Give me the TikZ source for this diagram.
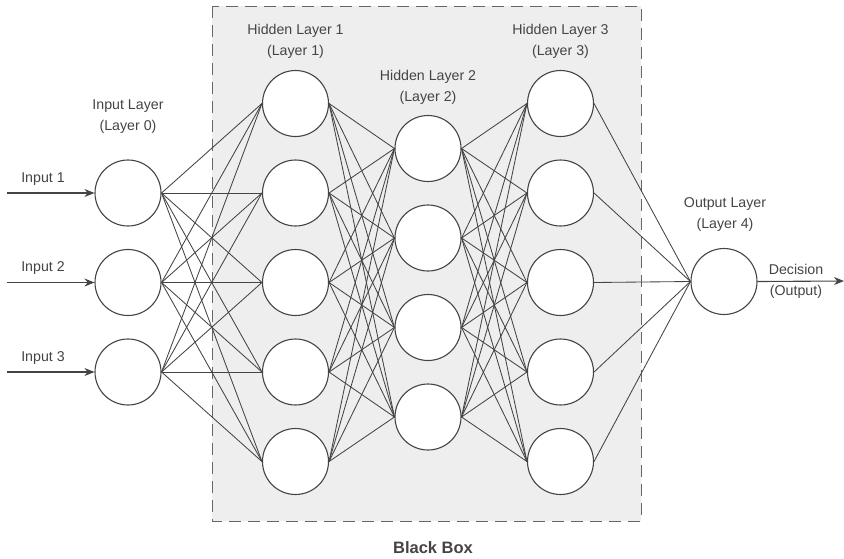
\documentclass[tikz,border=0pt]{standalone}
\usepackage{fontspec}
\setmainfont{Liberation Sans}
\usetikzlibrary{arrows.meta}
\definecolor{inkgray}{HTML}{444444}
\definecolor{boxgray}{HTML}{EEEEEE}
\definecolor{dashgray}{HTML}{666666}
\tikzset{
  neuron/.style={circle, draw=inkgray, line width=1.1pt, fill=white, minimum size=66pt, inner sep=0pt},
  layertext/.style={text=inkgray, font=\fontsize{14.2}{21}\selectfont, align=center},
  link/.style={draw=inkgray, line width=0.85pt},
  signal/.style={draw=inkgray, line width=1.1pt, -{Stealth[length=10pt,width=8pt]}}
}
\begin{document}
\begin{tikzpicture}[x=1pt,y=-1pt]
  \useasboundingbox (0,0) rectangle (844,558);

  % Draw the black box
  \draw[draw=dashgray, fill=boxgray, line width=1pt, dash pattern=on 12pt off 7pt] (212,6) rectangle (641,521);
  \node[text=inkgray, font=\fontsize{16.5}{18}\selectfont\bfseries] (bbox) at (433,548) {Black Box};

  % Define the neurons
  \foreach \i in {1,2,3}
    \node[neuron] (in\i) at (128,{193+89.5*(\i-1)}) {};
  \foreach \i in {1,...,5}
    \node[neuron] (ha\i) at (295.5,{103.5+89.5*(\i-1)}) {};
  \foreach \i in {1,...,4}
    \node[neuron] (hb\i) at (428,{148.5+89.5*(\i-1)}) {};
  \foreach \i in {1,...,5}
    \node[neuron] (hc\i) at (560.5,{103.5+89.5*(\i-1)}) {};
  \node[neuron] (out) at (724,281.5) {};

  % Connect the layers
  \foreach \i in {1,2,3}
    \foreach \j in {1,...,5}
      \draw[link] (in\i.east) -- (ha\j.west);
  \foreach \i in {1,...,5}
    \foreach \j in {1,...,4}
      \draw[link] (ha\i.east) -- (hb\j.west);
  \foreach \i in {1,...,4}
    \foreach \j in {1,...,5}
      \draw[link] (hb\i.east) -- (hc\j.west);
  \foreach \j in {1,...,5}
    \draw[link] (hc\j.east) -- (out.west);

  % Inputs and output
  \foreach \i in {1,2,3} {
    \coordinate (src\i) at (7,{193+89.5*(\i-1)});
    \draw[signal] (src\i) -- (in\i.west);
    \node[layertext] (intext\i) at (43,{179+89.5*(\i-1)}) {Input \i};
  }
  \coordinate (sink) at (844,281);
  \draw[signal] (out.east) -- (sink);
  \node[layertext] (dectext) at (796,281.5) {Decision\\(Output)};

  % Label the layers
  \node[layertext] (inlab) at (128,116.5) {Input Layer\\(Layer 0)};
  \node[layertext] (halab) at (295.5,41) {Hidden Layer 1\\(Layer 1)};
  \node[layertext] (hblab) at (428,87.5) {Hidden Layer 2\\(Layer 2)};
  \node[layertext] (hclab) at (560.5,41) {Hidden Layer 3\\(Layer 3)};
  \node[layertext] (outlab) at (725,214.5) {Output Layer\\(Layer 4)};

\end{tikzpicture}
\end{document}
